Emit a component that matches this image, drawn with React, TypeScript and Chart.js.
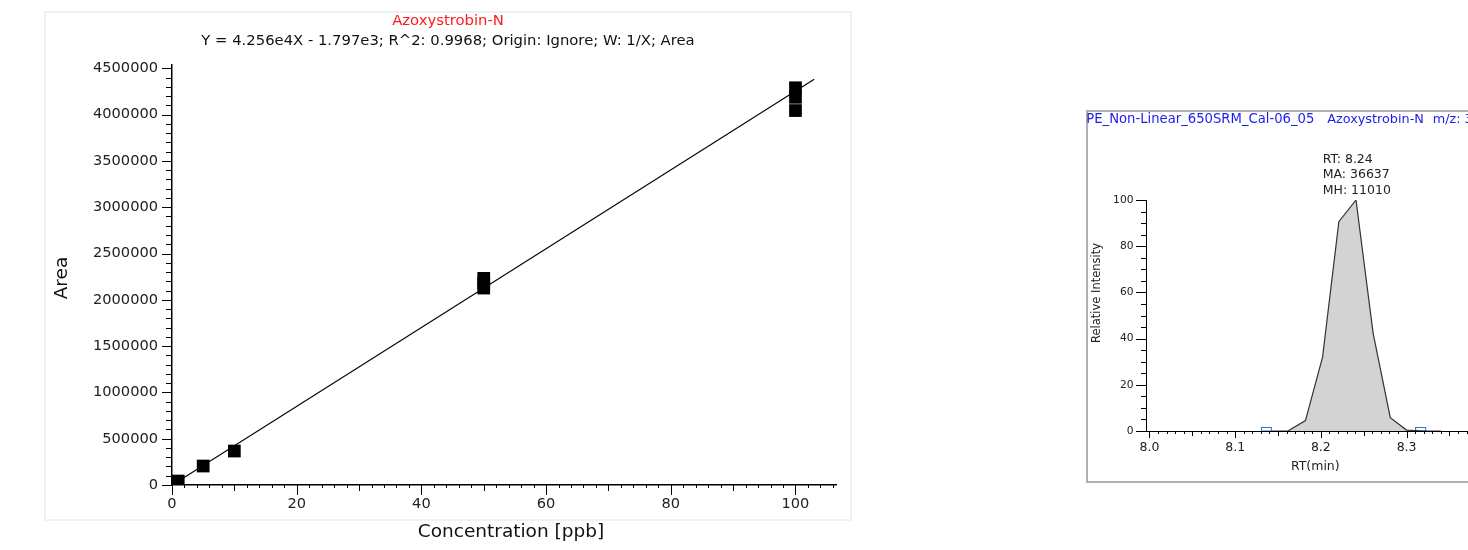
import React, { useEffect, useRef } from "react";
import { Chart, registerables } from "chart.js";

Chart.register(...registerables);

const FONT = "'DejaVu Sans', sans-serif";

// ---------- Calibration curve data ----------
const calConc = [1, 5, 10, 50, 50, 50, 100, 100, 100];
const calArea = [43000, 205000, 367000, 2232000, 2180000, 2127000, 4290000, 4187000, 4044000];
const fitConc = [1, 103];
const fitArea = [40800, 4382000];
const calXTicks = [0, 20, 40, 60, 80, 100];
const calYTicks = [0, 500000, 1000000, 1500000, 2000000, 2500000, 3000000, 3500000, 4000000, 4500000];
const calTitle = "Azoxystrobin-N";
const calSubtitle = "Y = 4.256e4X - 1.797e3; R^2: 0.9968; Origin: Ignore; W: 1/X; Area";
const calXTitle = "Concentration [ppb]";
const calYTitle = "Area";

// ---------- Chromatogram data ----------
const rtTimes = [8.143, 8.162, 8.182, 8.202, 8.221, 8.241, 8.261, 8.281, 8.3, 8.32, 8.34];
const rtIntensity = [0, 0.1, 4.5, 32, 90.6, 100, 42.3, 5.8, 0.4, 0, 0];
const peakMarkTimes = [8.137, 8.317];
const apexTime = [8.241];
const rtXTicks = [8.0, 8.1, 8.2, 8.3, 8.4];
const rtYTicks = [0, 20, 40, 60, 80, 100];
const rtHeader = ["PE_Non-Linear_650SRM_Cal-06_05", "Azoxystrobin-N", "m/z: 372.1"];
const rtNotes = ["RT: 8.24", "MA: 36637", "MH: 11010"];

function CalChart() {
  const ref = useRef<HTMLCanvasElement>(null);
  useEffect(() => {
    const decor = {
      id: "calDecor",
      afterDraw(chart: any) {
        const { ctx, chartArea } = chart;
        const x = chart.scales.x;
        const y = chart.scales.y;
        ctx.save();
        ctx.strokeStyle = "#000";
        ctx.lineWidth = 1;
        ctx.beginPath();
        for (let v = 0; v <= 106; v += 2) {
          const px = Math.round(x.getPixelForValue(v)) + 0.5;
          const len = v % 20 === 0 ? 10 : v % 10 === 0 ? 6 : 3;
          ctx.moveTo(px, chartArea.bottom);
          ctx.lineTo(px, chartArea.bottom + len);
        }
        for (let v = 0; v <= 4500000; v += 100000) {
          const py = Math.round(y.getPixelForValue(v)) + 0.5;
          const len = v % 500000 === 0 ? 10 : 6;
          ctx.moveTo(chartArea.left, py);
          ctx.lineTo(chartArea.left - len, py);
        }
        ctx.stroke();

        ctx.textAlign = "center";
        ctx.textBaseline = "alphabetic";
        ctx.fillStyle = "#ff1a1a";
        ctx.font = `14.8px ${FONT}`;
        ctx.fillText(calTitle, 403, 13);
        ctx.fillStyle = "#111";
        ctx.fillText(calSubtitle, 403, 33);
        ctx.font = `18.5px ${FONT}`;
        ctx.fillText(calXTitle, 466, 525);
        ctx.save();
        ctx.translate(17, 266);
        ctx.rotate(-Math.PI / 2);
        ctx.textBaseline = "middle";
        ctx.fillText(calYTitle, 0, 0);
        ctx.restore();
        ctx.restore();
      },
    };

    const chart = new Chart(ref.current!, {
      type: "scatter",
      data: {
        datasets: [
          {
            type: "line",
            data: fitConc.map((c, i) => ({ x: c, y: fitArea[i] })),
            borderColor: "#000",
            borderWidth: 1.1,
            pointRadius: 0,
            fill: false,
          } as any,
          {
            data: calConc.map((c, i) => ({ x: c, y: calArea[i] })),
            pointStyle: "rect",
            pointRadius: 9,
            backgroundColor: "#000",
            borderColor: "#000",
            borderWidth: 0,
          },
        ],
      },
      options: {
        animation: false,
        responsive: false,
        maintainAspectRatio: false,
        events: [],
        layout: { padding: { top: 53, right: 15, left: 0, bottom: 0 } },
        plugins: { legend: { display: false }, tooltip: { enabled: false }, title: { display: false } },
        scales: {
          x: {
            type: "linear",
            min: 0,
            max: 106.5,
            afterBuildTicks: (s: any) => {
              s.ticks = calXTicks.map((v) => ({ value: v }));
            },
            afterFit: (s: any) => {
              s.height = 61;
            },
            grid: { display: true, drawOnChartArea: false, drawTicks: false },
            border: { display: true, color: "#000", width: 1.5 },
            ticks: {
              padding: 10,
              color: "#222",
              font: { family: FONT, size: 14.6 },
              maxRotation: 0,
              autoSkip: false,
              callback: (v: any) => String(v),
            },
          },
          y: {
            type: "linear",
            min: 0,
            max: 4536000,
            afterBuildTicks: (s: any) => {
              s.ticks = calYTicks.map((v) => ({ value: v }));
            },
            afterFit: (s: any) => {
              s.width = 127;
            },
            grid: { display: true, drawOnChartArea: false, drawTicks: false },
            border: { display: true, color: "#000", width: 1.5 },
            ticks: {
              padding: 14,
              color: "#222",
              font: { family: FONT, size: 14.6 },
              autoSkip: false,
              callback: (v: any) => String(v),
            },
          },
        },
      },
      plugins: [decor],
    } as any);
    return () => chart.destroy();
  }, []);
  return (
    <canvas
      ref={ref}
      width={806}
      height={534}
      style={{ position: "absolute", left: 45, top: 12, width: 806, height: 534 }}
    />
  );
}

function RtChart() {
  const ref = useRef<HTMLCanvasElement>(null);
  useEffect(() => {
    const marker = document.createElement("canvas");
    marker.width = 12;
    marker.height = 8;
    const mctx = marker.getContext("2d")!;
    mctx.strokeStyle = "#2a78d0";
    mctx.lineWidth = 1;
    mctx.strokeRect(0.5, 0.5, 10, 3.5);

    const decor = {
      id: "rtDecor",
      afterDraw(chart: any) {
        const { ctx, chartArea } = chart;
        const x = chart.scales.x;
        const y = chart.scales.y;
        ctx.save();
        ctx.strokeStyle = "#000";
        ctx.lineWidth = 1;
        ctx.beginPath();
        for (let i = 800; i <= 841; i++) {
          const px = Math.round(x.getPixelForValue(i / 100)) + 0.5;
          const len = i % 10 === 0 ? 7 : i % 5 === 0 ? 5 : 3;
          ctx.moveTo(px, chartArea.bottom);
          ctx.lineTo(px, chartArea.bottom + len);
        }
        for (let v = 0; v <= 100; v += 5) {
          const py = Math.round(y.getPixelForValue(v)) + 0.5;
          const len = v % 20 === 0 ? 10 : 5;
          ctx.moveTo(chartArea.left, py);
          ctx.lineTo(chartArea.left - len, py);
        }
        ctx.stroke();

        ctx.textBaseline = "alphabetic";
        ctx.textAlign = "left";
        ctx.fillStyle = "#1c1cf0";
        ctx.font = `13.2px ${FONT}`;
        ctx.fillText(rtHeader[0], 0.3, 12.7);
        ctx.font = `12.8px ${FONT}`;
        ctx.fillText(rtHeader[1], 241.3, 12.7);
        ctx.fillText(rtHeader[2], 346.7, 12.7);

        ctx.fillStyle = "#222";
        ctx.font = `12.5px ${FONT}`;
        ctx.fillText(rtNotes[0], 236.7, 53.3);
        ctx.fillText(rtNotes[1], 236.7, 68.3);
        ctx.fillText(rtNotes[2], 236.7, 83.7);

        ctx.textAlign = "center";
        ctx.fillStyle = "#222";
        ctx.font = `12.5px ${FONT}`;
        ctx.fillText("RT(min)", 229.3, 360);

        ctx.save();
        ctx.translate(10.7, 183);
        ctx.rotate(-Math.PI / 2);
        ctx.textBaseline = "middle";
        ctx.font = `11.5px ${FONT}`;
        ctx.fillText("Relative Intensity", 0, 0);
        ctx.restore();
        ctx.restore();
      },
    };

    const chart = new Chart(ref.current!, {
      type: "line",
      data: {
        datasets: [
          {
            data: rtTimes.map((t, i) => ({ x: t, y: rtIntensity[i] })),
            borderColor: "#333",
            borderWidth: 1.2,
            backgroundColor: "#d3d3d3",
            fill: "origin",
            pointRadius: 0,
            tension: 0,
          },
          {
            type: "scatter",
            data: peakMarkTimes.map((t) => ({ x: t, y: 0 })),
            pointStyle: marker,
            pointRadius: 6,
          } as any,
          {
            type: "scatter",
            data: apexTime.map((t) => ({ x: t, y: 101.2 })),
            pointStyle: "line",
            rotation: 90,
            pointRadius: 1.6,
            borderColor: "#8fb8e8",
            borderWidth: 1,
          } as any,
        ],
      },
      options: {
        animation: false,
        responsive: false,
        maintainAspectRatio: false,
        events: [],
        layout: { padding: { top: 90, right: 26, left: 0, bottom: 0 } },
        plugins: { legend: { display: false }, tooltip: { enabled: false }, title: { display: false } },
        scales: {
          x: {
            type: "linear",
            min: 7.996,
            max: 8.409,
            afterBuildTicks: (s: any) => {
              s.ticks = rtXTicks.map((v) => ({ value: v }));
            },
            afterFit: (s: any) => {
              s.height = 52;
            },
            grid: { display: true, drawOnChartArea: false, drawTicks: false },
            border: { display: true, color: "#000", width: 1 },
            ticks: {
              padding: 9,
              color: "#222",
              font: { family: FONT, size: 12.5 },
              maxRotation: 0,
              autoSkip: false,
              callback: (v: any) => Number(v).toFixed(1),
            },
          },
          y: {
            type: "linear",
            min: 0,
            max: 100,
            afterBuildTicks: (s: any) => {
              s.ticks = rtYTicks.map((v) => ({ value: v }));
            },
            afterFit: (s: any) => {
              s.width = 60;
            },
            grid: { display: true, drawOnChartArea: false, drawTicks: false },
            border: { display: true, color: "#000", width: 1 },
            ticks: {
              padding: 12.5,
              color: "#222",
              font: { family: FONT, size: 10.7 },
              autoSkip: false,
              callback: (v: any) => String(v),
            },
          },
        },
      },
      plugins: [decor],
    } as any);
    return () => chart.destroy();
  }, []);
  return (
    <canvas
      ref={ref}
      width={440}
      height={373}
      style={{ position: "absolute", left: 1086, top: 110, width: 440, height: 373 }}
    />
  );
}

export default function App() {
  return (
    <div
      style={{
        position: "fixed",
        left: 0,
        top: 0,
        width: 1468,
        height: 550,
        overflow: "hidden",
        background: "#fff",
      }}
    >
      <div
        style={{
          position: "absolute",
          left: 44,
          top: 11,
          width: 808,
          height: 510,
          boxSizing: "border-box",
          border: "2px solid #eef2f8",
        }}
      />
      <div
        style={{
          position: "absolute",
          left: 1086,
          top: 110,
          width: 500,
          height: 373,
          boxSizing: "border-box",
          border: "2px solid #b0b0b0",
        }}
      />
      <CalChart />
      <RtChart />
    </div>
  );
}
